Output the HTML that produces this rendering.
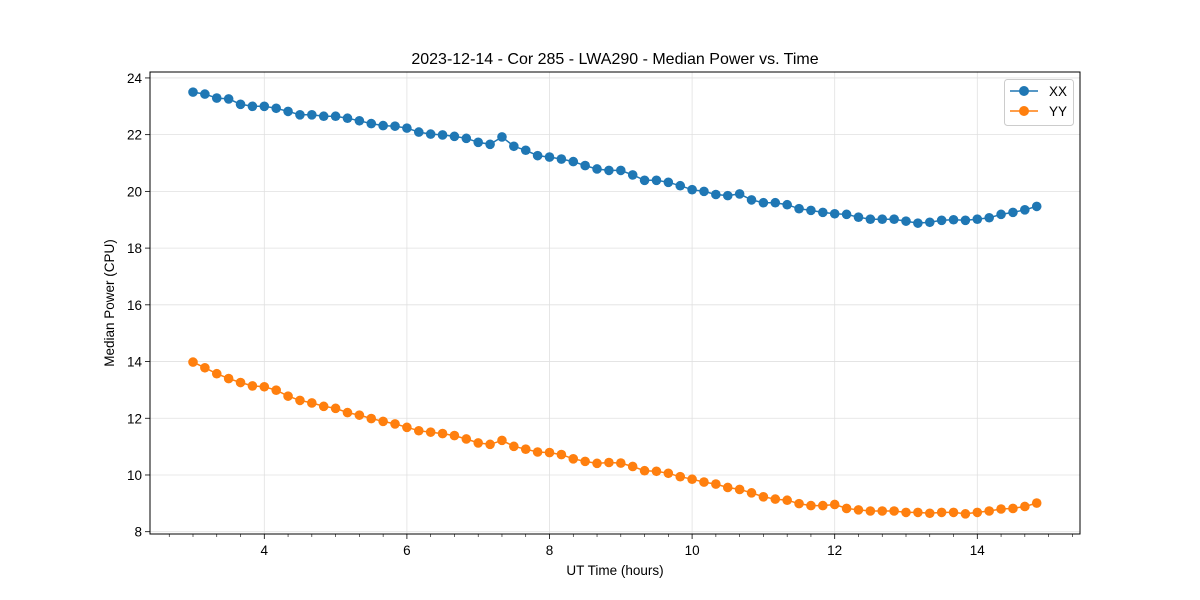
<!DOCTYPE html>
<html><head><meta charset="utf-8"><style>
body{margin:0;background:#fff;}
svg{display:block;font-family:"Liberation Sans","DejaVu Sans",sans-serif;}
</style></head><body>
<svg id="chart" width="1200" height="600" xmlns="http://www.w3.org/2000/svg">
<rect width="1200" height="600" fill="#fff"/>
<g id="grid"></g>
<g id="series"></g>
<g id="axes"></g>
<text x="615" y="64" text-anchor="middle" font-size="16" fill="#000">2023-12-14 - Cor 285 - LWA290 - Median Power vs. Time</text>
<text x="615" y="575" text-anchor="middle" font-size="13.5" fill="#000">UT Time (hours)</text>
<text x="114" y="303" text-anchor="middle" font-size="13.5" fill="#000" transform="rotate(-90 114 303)">Median Power (CPU)</text>
<g>
<rect x="1004.5" y="79.5" width="69" height="46" rx="3" fill="#fff" fill-opacity="0.8" stroke="#ccc"/>
<g>
<line x1="1010" y1="91" x2="1038" y2="91" stroke="#1f77b4" stroke-width="1.5"/>
<circle cx="1024" cy="91" r="5" fill="#1f77b4"/>
<text x="1049" y="96" font-size="13.5">XX</text></g>
<g>
<line x1="1010" y1="111" x2="1038" y2="111" stroke="#ff7f0e" stroke-width="1.5"/>
<circle cx="1024" cy="111" r="5" fill="#ff7f0e"/>
<text x="1049" y="116" font-size="13.5">YY</text></g>
</g>
</svg>
<script>
const startHour = 3;
const stepHour = 1/6;
const xxValues = [23.5,23.43,23.29,23.26,23.07,23.0,23.0,22.93,22.82,22.7,22.7,22.65,22.65,22.58,22.49,22.39,22.32,22.3,22.23,22.09,22.02,21.99,21.94,21.87,21.73,21.66,21.92,21.59,21.45,21.26,21.21,21.14,21.05,20.91,20.79,20.74,20.74,20.58,20.39,20.39,20.32,20.2,20.06,20.0,19.89,19.85,19.91,19.7,19.6,19.6,19.53,19.39,19.33,19.26,19.21,19.19,19.09,19.02,19.02,19.02,18.95,18.88,18.91,18.98,19.0,18.98,19.02,19.07,19.19,19.26,19.35,19.47];
const yyValues = [13.98,13.78,13.57,13.4,13.26,13.14,13.11,12.99,12.78,12.63,12.54,12.42,12.35,12.2,12.11,11.99,11.89,11.8,11.68,11.56,11.51,11.46,11.39,11.27,11.13,11.08,11.22,11.01,10.91,10.81,10.79,10.72,10.57,10.48,10.41,10.44,10.42,10.3,10.15,10.13,10.06,9.94,9.85,9.75,9.68,9.56,9.49,9.37,9.23,9.15,9.11,8.99,8.92,8.92,8.96,8.82,8.77,8.73,8.73,8.73,8.68,8.68,8.65,8.68,8.68,8.63,8.68,8.73,8.8,8.82,8.89,9.01];
const xTicks = [4,6,8,10,12,14];
const yTicks = [8,10,12,14,16,18,20,22,24];

const NS = "http://www.w3.org/2000/svg";
const L=150,R=1080,T=72,B=534;
function xs(t){return 264.3+(t-4)*71.3;}
function ys(v){return 531.7-(v-8)*28.36;}
function mk(tag,attrs,parent){const e=document.createElementNS(NS,tag);for(const k in attrs)e.setAttribute(k,attrs[k]);parent.appendChild(e);return e;}
const grid=document.getElementById('grid'),axes=document.getElementById('axes'),ser=document.getElementById('series');
xTicks.forEach(t=>{
  const g=mk('line',{x1:xs(t),x2:xs(t),y1:T,y2:B,stroke:'#e0e0e0','stroke-width':0.8},grid);
  
  
  mk('line',{x1:xs(t),x2:xs(t),y1:B,y2:B+5,stroke:'#000','stroke-width':0.8},axes);
  const tx=mk('text',{x:xs(t),y:B+21,'text-anchor':'middle','font-size':13.5},axes);
  tx.textContent=t;
  
  
});
for(let k=8;k<=46;k++){const t=k/3;if(Math.abs(t-Math.round(t))<1e-6&&Math.round(t)%2===0)continue;const x=xs(t);if(x<L||x>R)continue;
  mk('line',{x1:x,x2:x,y1:B,y2:B+3,stroke:'#000','stroke-width':0.6},axes);}
yTicks.forEach(v=>{
  const g=mk('line',{x1:L,x2:R,y1:ys(v),y2:ys(v),stroke:'#e0e0e0','stroke-width':0.8},grid);
  
  
  mk('line',{x1:L-5,x2:L,y1:ys(v),y2:ys(v),stroke:'#000','stroke-width':0.8},axes);
  const tx=mk('text',{x:L-8,y:ys(v)+5,'text-anchor':'end','font-size':13.5},axes);
  tx.textContent=v;
  
  
});
mk('rect',{x:L,y:T,width:R-L,height:B-T,fill:'none',stroke:'#000','stroke-width':1},axes);
function drawSeries(vals,color,name){
  const g=mk('g',{},ser);
  
  
  const pts=vals.map((v,i)=>xs(startHour+i*stepHour).toFixed(1)+','+ys(v).toFixed(1)).join(' ');
  mk('polyline',{points:pts,fill:'none',stroke:color,'stroke-width':1.5},g);
  vals.forEach((v,i)=>{
    const c=mk('circle',{cx:xs(startHour+i*stepHour),cy:ys(v),r:4.8,fill:color},g);
    
    
  });
}
drawSeries(xxValues,'#1f77b4','series-xx');
drawSeries(yyValues,'#ff7f0e','series-yy');
</script>
</body></html>
